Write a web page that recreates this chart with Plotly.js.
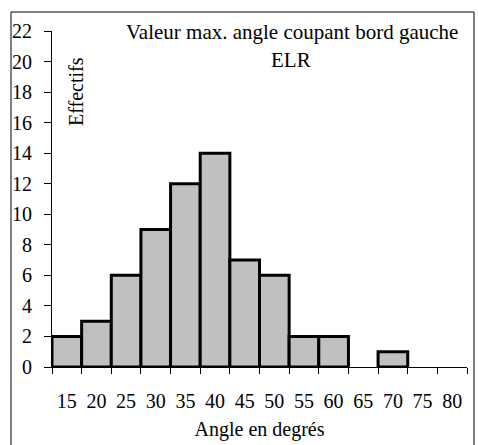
<!DOCTYPE html>
<html>
<head>
<meta charset="utf-8">
<script src="https://cdn.plot.ly/plotly-3.0.1.min.js"></script>
<style>html,body{margin:0;padding:0;background:#fff;}#chart{width:478px;height:445px;}</style>
</head>
<body>
<div id="chart"></div>
<script>
const categories = ["15","20","25","30","35","40","45","50","55","60","65","70","75","80"];
const counts = [2,3,6,9,12,14,7,6,2,2,0,1,0,0];
const yTicks = [0,2,4,6,8,10,12,14,16,18,20,22];
const titleLine1 = "Valeur max. angle coupant bord gauche";
const titleLine2 = "ELR";
const yTitle = "Effectifs";
const xTitle = "Angle en degrés";

const W = 478, H = 445;
const mL = 52, mR = 11, mT = 31, mB = 78;
const pw = W - mL - mR, ph = H - mT - mB;
const px = x => (x - mL) / pw;
const py = y => (H - mB - y) / ph;
const FONT = "Liberation Serif";
const f = (s) => ({family: FONT, size: s || 20, color: "#000"});

const trace = {
  type: "bar",
  x: categories,
  y: counts,
  marker: {color: "#C0C0C0", line: {color: "#000", width: counts.map(v => v > 0 ? 3 : 0)}},
  hoverinfo: "x+y"
};

const layout = {
  width: W, height: H,
  margin: {l: mL, r: mR, t: mT, b: mB, pad: 0},
  paper_bgcolor: "#fff", plot_bgcolor: "#fff",
  showlegend: false,
  bargap: 0,
  font: f(),
  xaxis: {
    type: "category",
    tickson: "boundaries",
    ticks: "outside", ticklen: 6, tickwidth: 1, tickcolor: "#000",
    showline: true, linecolor: "#000", linewidth: 1,
    showgrid: false, zeroline: false,
    ticklabelstandoff: 16,
    tickfont: f(),
    title: {text: xTitle, font: f(), standoff: 10}
  },
  yaxis: {
    range: [0, 22],
    tickvals: yTicks,
    ticktext: yTicks.map(String),
    ticks: "outside", ticklen: 7, tickwidth: 1, tickcolor: "#000",
    showline: true, linecolor: "#000", linewidth: 1,
    showgrid: false, zeroline: false,
    ticklabelstandoff: 8,
    tickfont: f()
  },
  annotations: [
    {text: titleLine1, xref: "paper", yref: "paper", x: px(292), y: py(32), xanchor: "center", yanchor: "middle", showarrow: false, font: f(21)},
    {text: titleLine2, xref: "paper", yref: "paper", x: px(291), y: py(60), xanchor: "center", yanchor: "middle", showarrow: false, font: f(21)},
    {text: yTitle, xref: "paper", yref: "paper", x: px(76), y: py(92), xanchor: "center", yanchor: "middle", textangle: -90, showarrow: false, font: f()}
  ],
  shapes: [
    {type: "rect", xref: "paper", yref: "paper", x0: px(11), x1: px(474), y0: py(460), y1: py(12), line: {color: "#000", width: 1}, fillcolor: "rgba(0,0,0,0)", layer: "below"}
  ]
};

Plotly.newPlot("chart", [trace], layout, {displayModeBar: false, staticPlot: true});
</script>
</body>
</html>
